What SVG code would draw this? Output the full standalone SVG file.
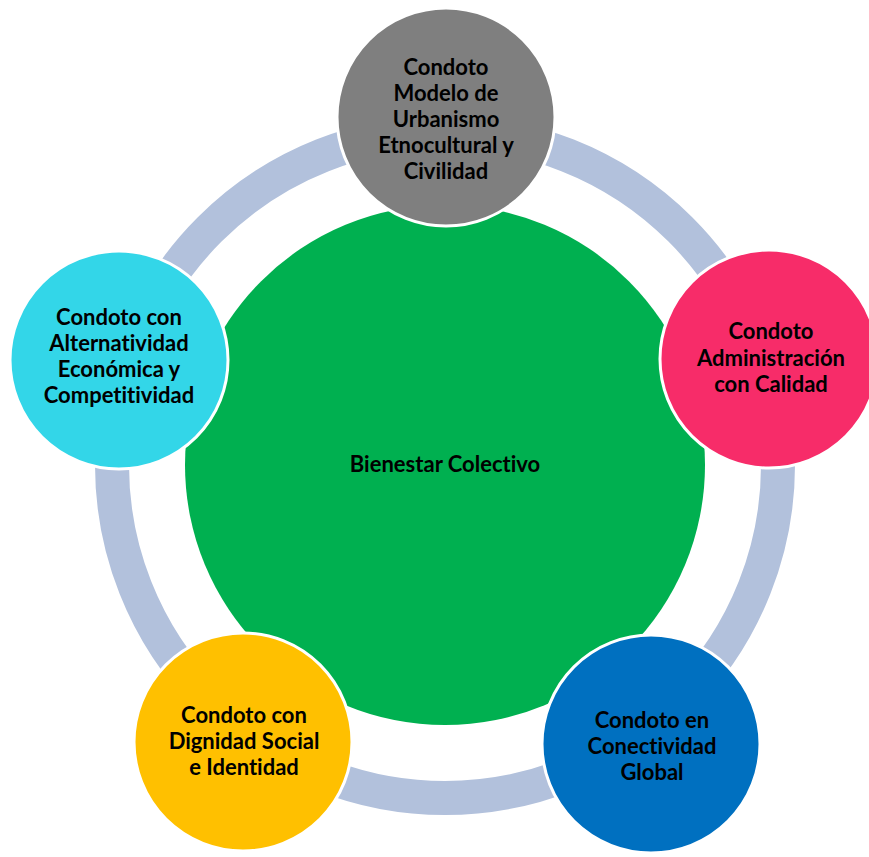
<svg xmlns="http://www.w3.org/2000/svg" width="869" height="857" viewBox="0 0 869 857">
<style>
.node{stroke:#ffffff;stroke-width:3}
.lbl{font-family:Lato,"Open Sans","Liberation Sans",sans-serif;font-weight:bold;font-size:22px;fill:#000000;text-anchor:middle;font-variant-ligatures:none}
</style>
<rect width="869" height="857" fill="#ffffff"/>
<g id="connectors">
<circle cx="445" cy="465" r="333" fill="none" stroke="#b2c1dc" stroke-width="34"/>
</g>
<g id="center">
<circle cx="445" cy="465" r="260" fill="#00b050"/>
<text class="lbl" x="445" y="472">Bienestar Colectivo</text>
</g>
<g id="node-top">
<circle class="node" cx="446" cy="117" r="109" fill="#7f7f7f"/>
<text class="lbl" x="446" y="75">Condoto</text>
<text class="lbl" x="446" y="101">Modelo de</text>
<text class="lbl" x="446" y="127">Urbanismo</text>
<text class="lbl" x="446" y="153">Etnocultural y</text>
<text class="lbl" x="446" y="179">Civilidad</text>
</g>
<g id="node-right">
<circle class="node" cx="769" cy="359" r="109" fill="#f72c69"/>
<text class="lbl" x="771" y="339">Condoto</text>
<text class="lbl" x="771" y="366">Administración</text>
<text class="lbl" x="771" y="392">con Calidad</text>
</g>
<g id="node-left">
<circle class="node" cx="119" cy="360" r="109" fill="#33d6e8"/>
<text class="lbl" x="119" y="325">Condoto con</text>
<text class="lbl" x="119" y="351">Alternatividad</text>
<text class="lbl" x="119" y="377">Económica y</text>
<text class="lbl" x="119" y="403">Competitividad</text>
</g>
<g id="node-bottom-left">
<circle class="node" cx="243" cy="742" r="109" fill="#ffc000"/>
<text class="lbl" x="244" y="723">Condoto con</text>
<text class="lbl" x="244" y="749">Dignidad Social</text>
<text class="lbl" x="244" y="775">e Identidad</text>
</g>
<g id="node-bottom-right">
<circle class="node" cx="651" cy="744" r="109" fill="#0070c0"/>
<text class="lbl" x="652" y="728">Condoto en</text>
<text class="lbl" x="652" y="754">Conectividad</text>
<text class="lbl" x="652" y="780">Global</text>
</g>
</svg>
